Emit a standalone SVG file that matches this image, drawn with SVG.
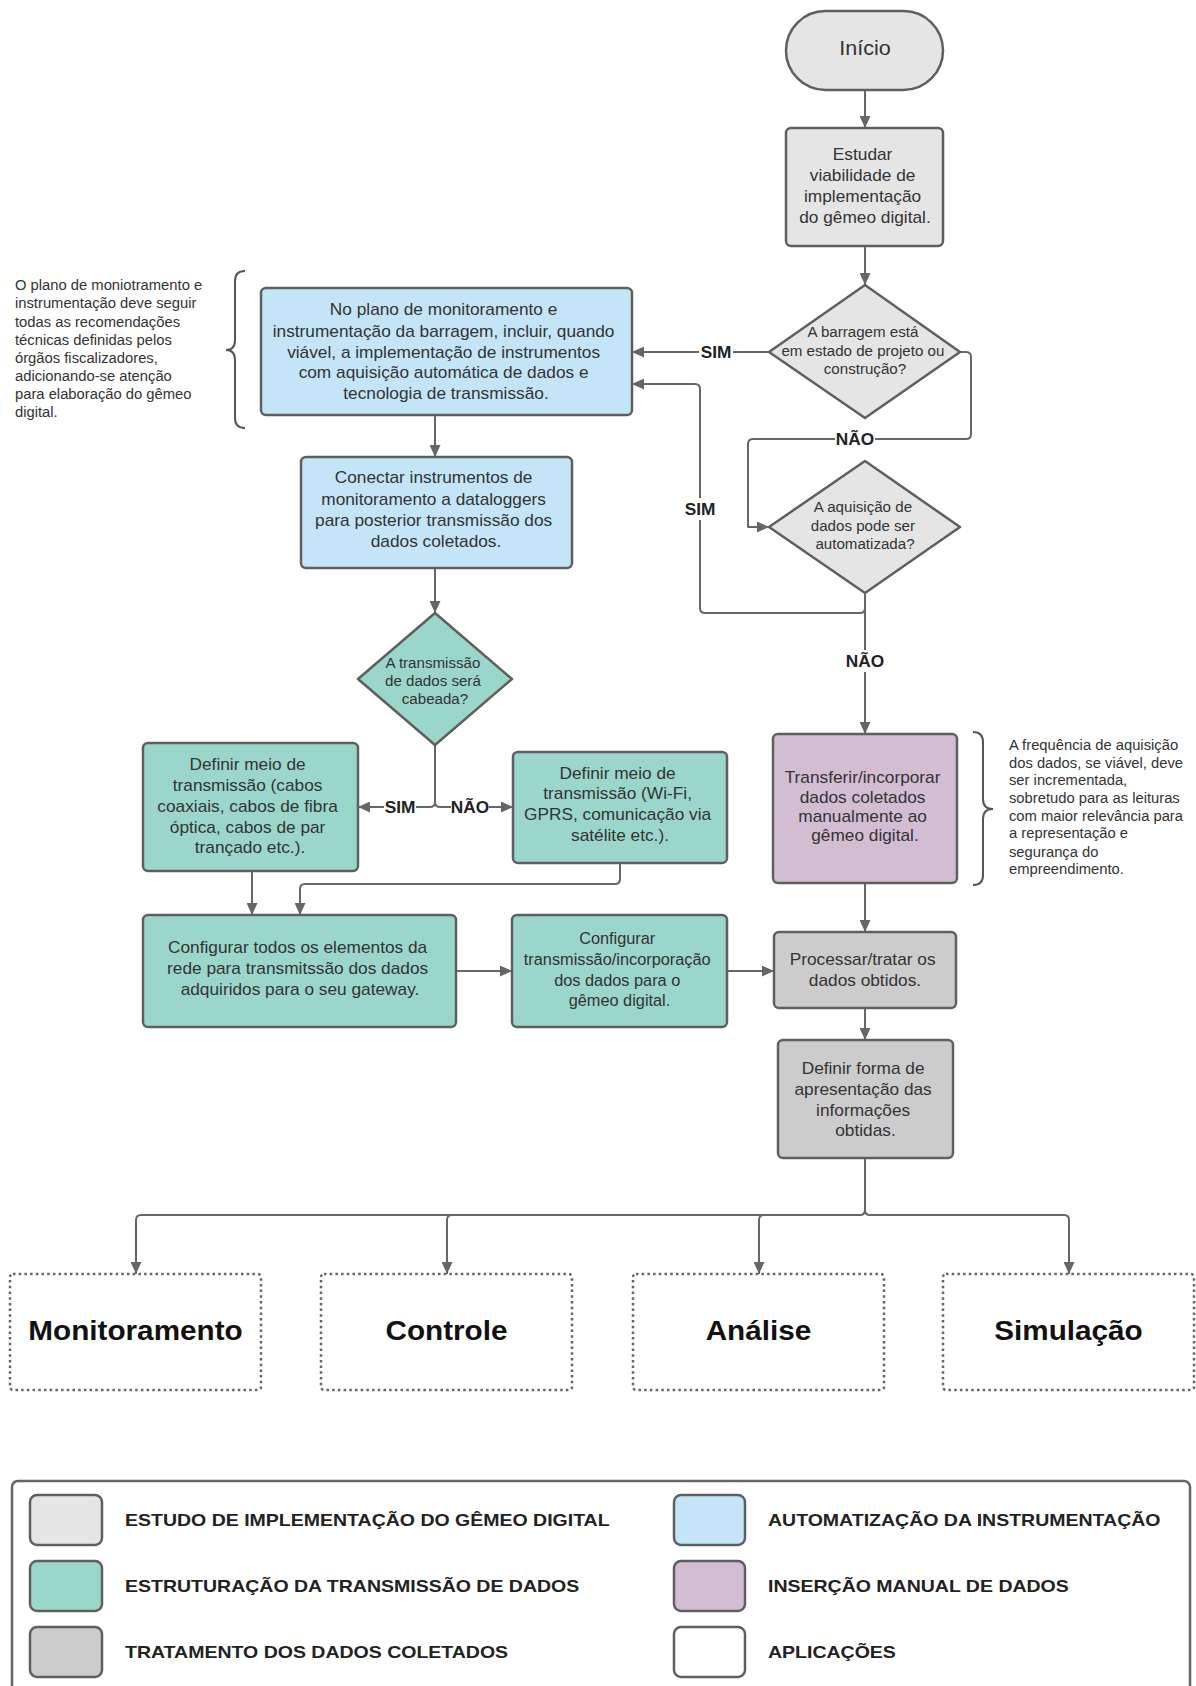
<svg xmlns="http://www.w3.org/2000/svg" width="1196" height="1686" viewBox="0 0 1196 1686">
  <style>
    .box{stroke:#5f5f5f;stroke-width:2.5;stroke-linejoin:round}
    .gray{fill:#e5e5e5}
    .blue{fill:#c3e5f7}
    .teal{fill:#9bd6ca}
    .purple{fill:#d3bdd3}
    .dgray{fill:#cccccc}
    .app-box{fill:#fff;stroke:#666;stroke-width:2.5;stroke-dasharray:2.5 3.2}
    .t{font-family:"Liberation Sans",Arial,sans-serif;font-size:16px;fill:#333;text-anchor:middle;transform-box:fill-box;transform-origin:center;transform:scaleX(1.08)}
    .s{font-size:14px}
    .ann{font-size:14.5px;text-anchor:start;transform-origin:0% 50%;transform:scaleX(1.02)}
    .lbl{font-weight:bold;font-size:16px;fill:#222}
    .app{font-weight:bold;font-size:27px;fill:#111;transform:scaleX(1.1)}
    .leg{font-weight:bold;font-size:16px;fill:#222;text-anchor:start;transform-origin:0% 50%;transform:scaleX(1.22)}
    .edge{fill:none;stroke:#666;stroke-width:2;stroke-linejoin:round}
    .brace{fill:none;stroke:#555;stroke-width:2}
    .bg{fill:#fff}
  </style>
  <defs>
    <marker id="arrow" markerUnits="userSpaceOnUse" markerWidth="13" markerHeight="11" refX="12" refY="5.5" orient="auto">
      <path d="M0,0 L12,5.5 L0,11 z" fill="#666"/>
    </marker>
  </defs>

  <rect width="1196" height="1686" fill="#fff"/>

  <!-- connectors -->
  <g id="connectors">
    <path class="edge" d="M865,90 V128" marker-end="url(#arrow)"/>
    <path class="edge" d="M865,246 V285" marker-end="url(#arrow)"/>
    <path class="edge" d="M769,352 H632" marker-end="url(#arrow)"/>
    <path class="edge" d="M960,352 H966 Q971,352 971,357 V434 Q971,439 966,439 H753 Q748,439 748,444 V527 H769" marker-end="url(#arrow)"/>
    <path class="edge" d="M865,593 V608 Q865,613 860,613 H705 Q700,613 700,608 V389 Q700,384 695,384 H632" marker-end="url(#arrow)"/>
    <path class="edge" d="M865,593 V734" marker-end="url(#arrow)"/>
    <path class="edge" d="M435,415 V457" marker-end="url(#arrow)"/>
    <path class="edge" d="M435,568 V613" marker-end="url(#arrow)"/>
    <path class="edge" d="M435,745 V802 Q435,807 430,807 H358" marker-end="url(#arrow)"/>
    <path class="edge" d="M435,802 Q435,807 440,807 H513" marker-end="url(#arrow)"/>
    <path class="edge" d="M252,871 V915" marker-end="url(#arrow)"/>
    <path class="edge" d="M620,863 V879 Q620,884 615,884 H305 Q300,884 300,889 V915" marker-end="url(#arrow)"/>
    <path class="edge" d="M456,971 H512" marker-end="url(#arrow)"/>
    <path class="edge" d="M727,971 H774" marker-end="url(#arrow)"/>
    <path class="edge" d="M865,883 V932" marker-end="url(#arrow)"/>
    <path class="edge" d="M865,1008 V1040" marker-end="url(#arrow)"/>
    <path class="edge" d="M865,1158 V1210 Q865,1215 860,1215 H141 Q136,1215 136,1220 V1274" marker-end="url(#arrow)"/>
    <path class="edge" d="M865,1210 Q865,1215 870,1215 H1064 Q1069,1215 1069,1220 V1274" marker-end="url(#arrow)"/>
    <path class="edge" d="M452,1215 Q447,1215 447,1220 V1274" marker-end="url(#arrow)"/>
    <path class="edge" d="M764,1215 Q759,1215 759,1220 V1274" marker-end="url(#arrow)"/>

    <!-- branch labels -->
    <rect class="bg" x="699" y="342" width="34" height="20"/>
    <text class="t lbl" x="716" y="358">SIM</text>
    <rect class="bg" x="835" y="429" width="40" height="20"/>
    <text class="t lbl" x="855" y="445">NÃO</text>
    <rect class="bg" x="684" y="498" width="34" height="22"/>
    <text class="t lbl" x="700" y="515">SIM</text>
    <rect class="bg" x="845" y="650" width="40" height="22"/>
    <text class="t lbl" x="865" y="667">NÃO</text>
    <rect class="bg" x="384" y="797" width="32" height="20"/>
    <text class="t lbl" x="400" y="813">SIM</text>
    <rect class="bg" x="451" y="797" width="38" height="20"/>
    <text class="t lbl" x="470" y="813">NÃO</text>
  </g>

  <!-- start -->
  <g id="inicio">
    <rect class="box gray" x="786" y="11" width="157" height="79" rx="39.5"/>
    <text class="t" style="font-size:20px" x="865" y="55">Início</text>
  </g>

  <g id="estudar">
    <rect class="box gray" x="786" y="128" width="157" height="118" rx="5"/>
    <text class="t">
      <tspan x="865" y="160">Estudar</tspan>
      <tspan x="865" y="181">viabilidade de</tspan>
      <tspan x="865" y="202">implementação</tspan>
      <tspan x="865" y="223">do gêmeo digital.</tspan>
    </text>
  </g>

  <g id="decisao-projeto">
    <polygon class="box gray" points="865,285 960,352 865,418 769,352"/>
    <text class="t s">
      <tspan x="865" y="337">A barragem está</tspan>
      <tspan x="865" y="356">em estado de projeto ou</tspan>
      <tspan x="865" y="374">construção?</tspan>
    </text>
  </g>

  <g id="decisao-automatizar">
    <polygon class="box gray" points="865,461 960,527 865,593 769,527"/>
    <text class="t s">
      <tspan x="865" y="512">A aquisição de</tspan>
      <tspan x="865" y="531">dados pode ser</tspan>
      <tspan x="865" y="549">automatizada?</tspan>
    </text>
  </g>

  <g id="plano-instrumentacao">
    <rect class="box blue" x="261" y="288" width="371" height="127" rx="5"/>
    <text class="t">
      <tspan x="446" y="315">No plano de monitoramento e</tspan>
      <tspan x="446" y="337">instrumentação da barragem, incluir, quando</tspan>
      <tspan x="446" y="358">viável, a implementação de instrumentos</tspan>
      <tspan x="446" y="378">com aquisição automática de dados e</tspan>
      <tspan x="446" y="399">tecnologia de transmissão.</tspan>
    </text>
  </g>

  <g id="nota-plano">
    <path class="brace" d="M245,271 Q235,271 235,281 V340 Q235,350 226,350 Q235,350 235,360 V418 Q235,428 245,428"/>
    <text class="t ann">
      <tspan x="15" y="290">O plano de moniotramento e</tspan>
      <tspan x="15" y="308">instrumentação deve seguir</tspan>
      <tspan x="15" y="327">todas as recomendações</tspan>
      <tspan x="15" y="345">técnicas definidas pelos</tspan>
      <tspan x="15" y="363">órgãos fiscalizadores,</tspan>
      <tspan x="15" y="381">adicionando-se atenção</tspan>
      <tspan x="15" y="399">para elaboração do gêmeo</tspan>
      <tspan x="15" y="417">digital.</tspan>
    </text>
  </g>

  <g id="conectar-dataloggers">
    <rect class="box blue" x="301" y="457" width="271" height="111" rx="5"/>
    <text class="t">
      <tspan x="436" y="483">Conectar instrumentos de</tspan>
      <tspan x="436" y="505">monitoramento a dataloggers</tspan>
      <tspan x="436" y="526">para posterior transmissão dos</tspan>
      <tspan x="436" y="547">dados coletados.</tspan>
    </text>
  </g>

  <g id="decisao-cabeada">
    <polygon class="box teal" points="435,613 512,679 435,745 358,679"/>
    <text class="t s">
      <tspan x="435" y="668">A transmissão</tspan>
      <tspan x="435" y="686">de dados será</tspan>
      <tspan x="435" y="704">cabeada?</tspan>
    </text>
  </g>

  <g id="meio-cabeado">
    <rect class="box teal" x="143" y="743" width="215" height="128" rx="5"/>
    <text class="t">
      <tspan x="250" y="770">Definir meio de</tspan>
      <tspan x="250" y="791">transmissão (cabos</tspan>
      <tspan x="250" y="812">coaxiais, cabos de fibra</tspan>
      <tspan x="250" y="833">óptica, cabos de par</tspan>
      <tspan x="250" y="853">trançado etc.).</tspan>
    </text>
  </g>

  <g id="meio-sem-fio">
    <rect class="box teal" x="513" y="752" width="214" height="111" rx="5"/>
    <text class="t">
      <tspan x="620" y="779">Definir meio de</tspan>
      <tspan x="620" y="799">transmissão (Wi-Fi,</tspan>
      <tspan x="620" y="820">GPRS, comunicação via</tspan>
      <tspan x="620" y="841">satélite etc.).</tspan>
    </text>
  </g>

  <g id="configurar-rede">
    <rect class="box teal" x="143" y="915" width="313" height="112" rx="5"/>
    <text class="t">
      <tspan x="300" y="953">Configurar todos os elementos da</tspan>
      <tspan x="300" y="974">rede para transmitssão dos dados</tspan>
      <tspan x="300" y="995">adquiridos para o seu gateway.</tspan>
    </text>
  </g>

  <g id="configurar-transmissao">
    <rect class="box teal" x="512" y="915" width="215" height="112" rx="5"/>
    <text class="t" style="transform:scaleX(1.02)">
      <tspan x="619.5" y="944">Configurar</tspan>
      <tspan x="619.5" y="965">transmissão/incorporação</tspan>
      <tspan x="619.5" y="986">dos dados para o</tspan>
      <tspan x="619.5" y="1006">gêmeo digital.</tspan>
    </text>
  </g>

  <g id="insercao-manual">
    <rect class="box purple" x="773" y="734" width="184" height="149" rx="5"/>
    <text class="t">
      <tspan x="865" y="783">Transferir/incorporar</tspan>
      <tspan x="865" y="803">dados coletados</tspan>
      <tspan x="865" y="822">manualmente ao</tspan>
      <tspan x="865" y="841">gêmeo digital.</tspan>
    </text>
  </g>

  <g id="nota-frequencia">
    <path class="brace" d="M973,732 Q983,732 983,742 V799 Q983,809 993,809 Q983,809 983,819 V875 Q983,885 973,885"/>
    <text class="t ann">
      <tspan x="1009" y="750">A frequência de aquisição</tspan>
      <tspan x="1009" y="768">dos dados, se viável, deve</tspan>
      <tspan x="1009" y="785">ser incrementada,</tspan>
      <tspan x="1009" y="803">sobretudo para as leituras</tspan>
      <tspan x="1009" y="821">com maior relevância para</tspan>
      <tspan x="1009" y="838">a representação e</tspan>
      <tspan x="1009" y="857">segurança do</tspan>
      <tspan x="1009" y="874">empreendimento.</tspan>
    </text>
  </g>

  <g id="processar">
    <rect class="box dgray" x="774" y="932" width="182" height="76" rx="5"/>
    <text class="t">
      <tspan x="865" y="965">Processar/tratar os</tspan>
      <tspan x="865" y="986">dados obtidos.</tspan>
    </text>
  </g>

  <g id="apresentacao">
    <rect class="box dgray" x="778" y="1040" width="175" height="118" rx="5"/>
    <text class="t">
      <tspan x="865.5" y="1074">Definir forma de</tspan>
      <tspan x="865.5" y="1095">apresentação das</tspan>
      <tspan x="865.5" y="1116">informações</tspan>
      <tspan x="865.5" y="1136">obtidas.</tspan>
    </text>
  </g>

  <!-- applications -->
  <g id="monitoramento">
    <rect class="app-box" x="10" y="1274" width="251" height="116" rx="3"/>
    <text class="t app" x="135.5" y="1340">Monitoramento</text>
  </g>
  <g id="controle">
    <rect class="app-box" x="321" y="1274" width="251" height="116" rx="3"/>
    <text class="t app" x="446.5" y="1340">Controle</text>
  </g>
  <g id="analise">
    <rect class="app-box" x="633" y="1274" width="251" height="116" rx="3"/>
    <text class="t app" x="758.5" y="1340">Análise</text>
  </g>
  <g id="simulacao">
    <rect class="app-box" x="943" y="1274" width="251" height="116" rx="3"/>
    <text class="t app" x="1068.5" y="1340">Simulação</text>
  </g>

  <!-- legend -->
  <g id="legenda">
    <rect x="12" y="1481" width="1178" height="240" rx="6" fill="#fff" stroke="#666" stroke-width="2.5"/>
    <rect class="box gray" x="30" y="1495" width="72" height="50" rx="7"/>
    <rect class="box teal" x="30" y="1561" width="72" height="50" rx="7"/>
    <rect class="box dgray" x="30" y="1627" width="72" height="50" rx="7"/>
    <rect class="box blue" x="674" y="1495" width="71" height="50" rx="7"/>
    <rect class="box purple" x="674" y="1561" width="71" height="50" rx="7"/>
    <rect class="box" fill="#fff" x="674" y="1627" width="71" height="50" rx="7"/>
    <text class="t leg" x="125" y="1526">ESTUDO DE IMPLEMENTAÇÃO DO GÊMEO DIGITAL</text>
    <text class="t leg" x="125" y="1592">ESTRUTURAÇÃO DA TRANSMISSÃO DE DADOS</text>
    <text class="t leg" x="125" y="1658">TRATAMENTO DOS DADOS COLETADOS</text>
    <text class="t leg" x="768" y="1526">AUTOMATIZAÇÃO DA INSTRUMENTAÇÃO</text>
    <text class="t leg" x="768" y="1592">INSERÇÃO MANUAL DE DADOS</text>
    <text class="t leg" x="768" y="1658">APLICAÇÕES</text>
  </g>
</svg>
